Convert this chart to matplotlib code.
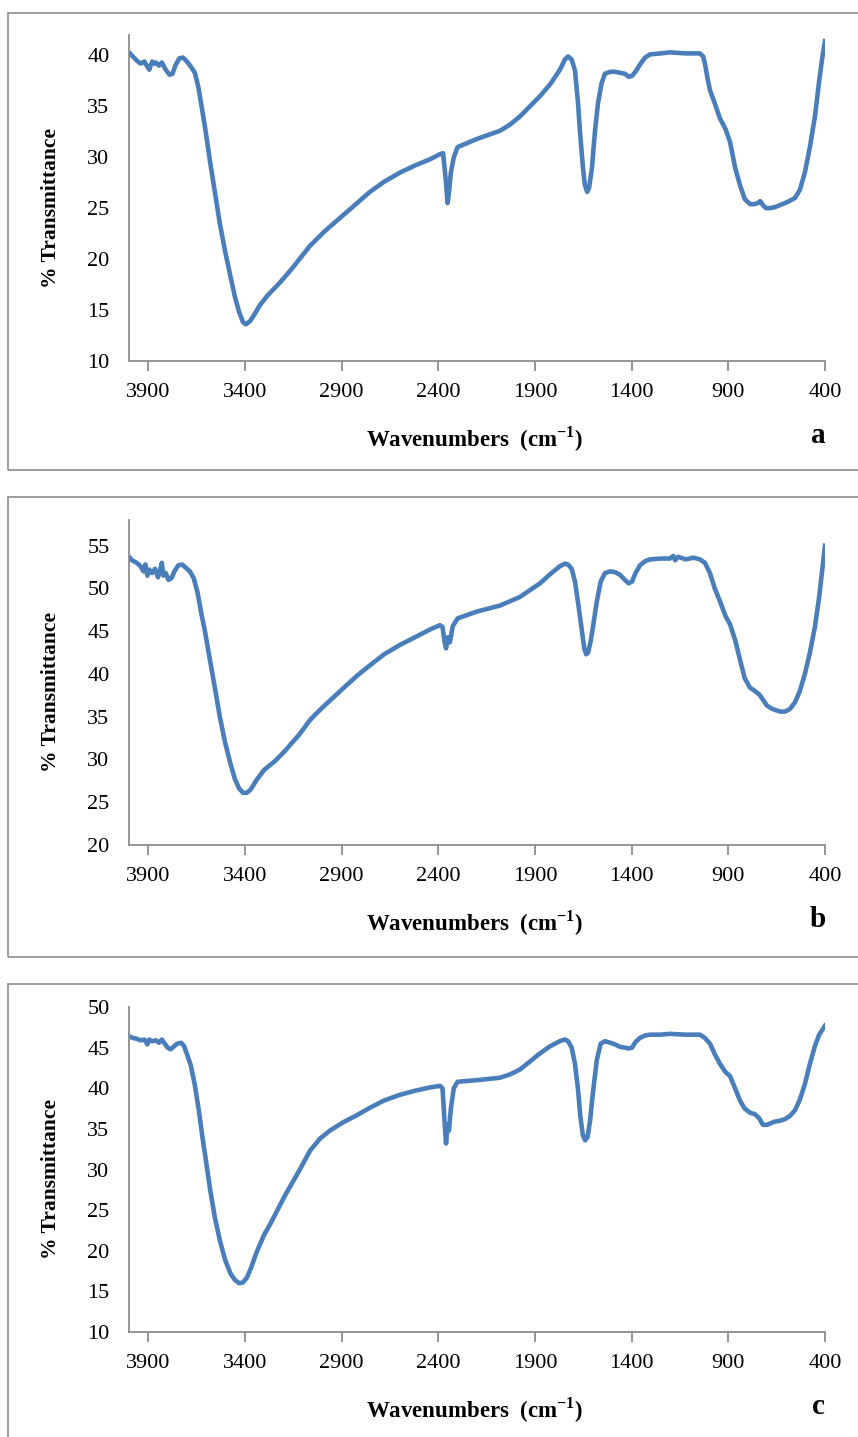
import matplotlib.pyplot as plt
from matplotlib.patches import Rectangle

plt.rcParams['font.family'] = 'Liberation Serif'
plt.rcParams['mathtext.fontset'] = 'custom'
plt.rcParams['mathtext.rm'] = 'Liberation Serif:bold'
plt.rcParams['mathtext.bf'] = 'Liberation Serif:bold'

# FTIR spectra, three samples (a, b, c)
wn_a = [4000, 3985, 3960, 3940, 3920, 3905, 3895, 3880, 3870, 3860, 3845, 3830, 3810, 3790,
        3775, 3760, 3740, 3721, 3700, 3680, 3659, 3640, 3620, 3607, 3580, 3555, 3530, 3503,
        3475, 3452, 3430, 3410, 3395, 3374, 3350, 3322, 3280, 3219, 3160, 3064, 2990, 2893,
        2820, 2754, 2680, 2598, 2520, 2443, 2392, 2375, 2360, 2352, 2345, 2335, 2320, 2300,
        2200, 2081, 2030, 1978, 1926, 1874, 1820, 1771, 1745, 1729, 1710, 1693, 1678, 1667,
        1652, 1642, 1630, 1620, 1605, 1590, 1574, 1555, 1538, 1510, 1486, 1460, 1435, 1415,
        1398, 1380, 1357, 1330, 1305, 1250, 1202, 1120, 1047, 1030, 1021, 1008, 995, 970,
        943, 915, 891, 865, 840, 815, 788, 765, 747, 735, 721, 705, 685, 660, 633, 595, 555,
        530, 504, 478, 452, 430, 416, 400]
t_a = [40.3, 40.0, 39.5, 39.2, 39.4, 38.9, 38.6, 39.4, 39.2, 39.3, 39.0, 39.3, 38.6, 38.1,
       38.2, 39.0, 39.7, 39.8, 39.4, 38.9, 38.3, 36.8, 34.5, 33.0, 29.5, 26.5, 23.5, 20.8,
       18.3, 16.3, 14.8, 13.8, 13.6, 13.9, 14.6, 15.5, 16.5, 17.7, 19.0, 21.3, 22.7, 24.3,
       25.5, 26.6, 27.6, 28.5, 29.2, 29.8, 30.3, 30.4, 27.5, 25.5, 26.5, 28.5, 30.0, 31.0,
       31.8, 32.6, 33.2, 34.0, 35.0, 36.0, 37.2, 38.6, 39.6, 39.9, 39.6, 38.5, 35.5, 32.5,
       29.0, 27.3, 26.6, 27.0, 29.0, 32.5, 35.3, 37.3, 38.2, 38.4, 38.4, 38.3, 38.2, 37.9,
       38.0, 38.4, 39.1, 39.8, 40.1, 40.2, 40.3, 40.2, 40.2, 39.9, 39.2, 37.8, 36.6, 35.3,
       33.8, 32.8, 31.5, 29.0, 27.3, 25.9, 25.4, 25.4, 25.5, 25.7, 25.3, 25.0, 25.0, 25.1,
       25.3, 25.6, 26.0, 26.8, 28.5, 31.0, 34.0, 37.5, 39.5, 41.4]

wn_b = [4000, 3985, 3960, 3940, 3925, 3915, 3905, 3895, 3880, 3865, 3850, 3840, 3830, 3822,
        3810, 3795, 3780, 3765, 3745, 3725, 3705, 3685, 3665, 3645, 3625, 3607, 3580, 3555,
        3530, 3503, 3475, 3452, 3430, 3410, 3390, 3370, 3340, 3300, 3245, 3193, 3116, 3064,
        3012, 2893, 2820, 2754, 2680, 2598, 2520, 2443, 2392, 2378, 2368, 2360, 2350, 2340,
        2325, 2300, 2200, 2081, 1978, 1926, 1874, 1820, 1771, 1745, 1729, 1710, 1693, 1678,
        1660, 1645, 1635, 1625, 1612, 1600, 1580, 1560, 1538, 1510, 1486, 1460, 1435, 1415,
        1398, 1380, 1357, 1330, 1305, 1250, 1202, 1185, 1175, 1160, 1120, 1080, 1047, 1021,
        995, 970, 943, 915, 891, 865, 840, 815, 788, 762, 740, 721, 700, 680, 659, 633, 607,
        581, 555, 530, 504, 478, 452, 430, 416, 400]
t_b = [53.7, 53.3, 53.0, 52.6, 52.0, 52.8, 51.5, 52.2, 51.8, 52.3, 51.3, 52.0, 53.0, 51.5,
       51.8, 51.0, 51.2, 52.0, 52.7, 52.8, 52.4, 52.0, 51.2, 49.5, 47.0, 45.0, 41.5, 38.3,
       35.0, 32.0, 29.5, 27.7, 26.6, 26.1, 26.1, 26.5, 27.6, 28.8, 29.8, 31.0, 33.0, 34.6,
       35.8, 38.3, 39.8, 41.0, 42.3, 43.4, 44.3, 45.2, 45.7, 45.5, 43.8, 43.0, 44.3, 43.7,
       45.6, 46.5, 47.3, 48.0, 49.0, 49.8, 50.6, 51.7, 52.6, 52.9, 52.8, 52.3, 50.8, 48.5,
       45.5, 43.0, 42.3, 42.5, 43.8, 45.5, 48.5, 50.8, 51.8, 52.0, 51.9, 51.6, 51.0, 50.6,
       50.8, 51.8, 52.7, 53.2, 53.4, 53.5, 53.5, 53.8, 53.3, 53.7, 53.4, 53.6, 53.4, 53.0,
       51.8, 50.0, 48.5, 46.8, 45.8, 44.0, 41.7, 39.5, 38.4, 38.0, 37.6, 37.0, 36.3, 36.0,
       35.8, 35.6, 35.6, 35.9, 36.7, 38.0, 40.0, 42.5, 45.5, 49.0, 51.8, 55.0]

wn_c = [4000, 3980, 3960, 3940, 3920, 3905, 3895, 3880, 3860, 3845, 3830, 3815, 3800, 3785,
        3770, 3750, 3730, 3715, 3700, 3680, 3660, 3640, 3620, 3600, 3580, 3555, 3530, 3503,
        3475, 3452, 3430, 3410, 3390, 3370, 3340, 3300, 3271, 3245, 3193, 3116, 3064, 3012,
        2960, 2893, 2820, 2754, 2680, 2598, 2520, 2443, 2392, 2378, 2368, 2360, 2352, 2345,
        2335, 2320, 2300, 2200, 2081, 2030, 1978, 1926, 1874, 1820, 1771, 1745, 1729, 1710,
        1693, 1678, 1665, 1652, 1640, 1628, 1615, 1600, 1580, 1560, 1538, 1510, 1486, 1460,
        1435, 1415, 1398, 1380, 1357, 1330, 1305, 1250, 1202, 1120, 1047, 1021, 995, 970,
        943, 915, 891, 865, 840, 815, 788, 762, 740, 721, 700, 680, 659, 633, 607, 581, 555,
        530, 504, 478, 452, 430, 400]
t_c = [46.4, 46.2, 46.1, 45.9, 46.0, 45.4, 46.0, 45.8, 45.9, 45.6, 46.0, 45.5, 45.0, 44.8,
       45.1, 45.5, 45.6, 45.2, 44.2, 42.8, 40.5, 37.5, 34.0, 30.8, 27.5, 24.0, 21.3, 18.9,
       17.2, 16.4, 16.0, 16.1, 16.7, 17.8, 19.8, 22.0, 23.2, 24.4, 26.8, 30.0, 32.3, 33.8,
       34.8, 35.8, 36.7, 37.6, 38.5, 39.2, 39.7, 40.1, 40.3, 40.0, 36.0, 33.2, 35.5, 34.8,
       37.5, 40.0, 40.8, 41.0, 41.3, 41.7, 42.3, 43.3, 44.3, 45.2, 45.8, 46.0, 45.8, 45.0,
       43.0, 40.0, 36.5, 34.2, 33.6, 34.0, 36.0, 39.5, 43.5, 45.5, 45.8, 45.6, 45.4, 45.1,
       45.0, 44.9, 45.0, 45.7, 46.2, 46.5, 46.6, 46.6, 46.7, 46.6, 46.6, 46.2, 45.5, 44.2,
       43.0, 42.0, 41.5, 40.0, 38.5, 37.5, 37.0, 36.8, 36.3, 35.5, 35.5, 35.7, 35.9, 36.0,
       36.2, 36.6, 37.3, 38.6, 40.5, 43.0, 45.2, 46.6, 47.7]

x_ticks = [3900, 3400, 2900, 2400, 1900, 1400, 900, 400]
y_limits = [(10, 42), (20, 58), (10, 50)]
y_ticks = [range(10, 41, 5), range(20, 56, 5), range(10, 51, 5)]
letters = ['a', 'b', 'c']

line_col = '#4A7EBB'
axis_col = '#8C8C8C'

fig = plt.figure(figsize=(8.58, 14.37), dpi=100)

# (axes bottom, axes top, frame bottom, frame top) in figure fraction
rows = [(0.7488, 0.9756, 0.6729, 0.9910),
        (0.4120, 0.6381, 0.3340, 0.6541),
        (0.0731, 0.2992, -0.02, 0.3152)]

spectra = [(wn_a, t_a), (wn_b, t_b), (wn_c, t_c)]

for i, (wn, t) in enumerate(spectra):
    ax_bot, ax_top, fr_bot, fr_top = rows[i]
    fig.patches.append(Rectangle((0.0093, fr_bot), 1.05, fr_top - fr_bot,
                                 transform=fig.transFigure, fill=False,
                                 edgecolor=axis_col, linewidth=1.2))
    ax = fig.add_axes([0.1503, ax_bot, 0.8112, ax_top - ax_bot])
    ax.plot(wn, t, color=line_col, linewidth=3.3, solid_joinstyle='round')
    ax.set_xlim(4000, 400)
    ax.set_ylim(*y_limits[i])
    ax.set_xticks(x_ticks)
    ax.set_yticks(list(y_ticks[i]))
    for s in ['top', 'right']:
        ax.spines[s].set_visible(False)
    for s in ['left', 'bottom']:
        ax.spines[s].set_color(axis_col)
        ax.spines[s].set_linewidth(1.3)
    ax.tick_params(axis='x', direction='out', length=7, width=1.3, color=axis_col,
                   pad=9, labelsize=16)
    ax.tick_params(axis='y', length=0, pad=14, labelsize=16)
    ax.set_xlabel(r'Wavenumbers  (cm$^{-1}$)', fontsize=16.5, fontweight='bold')
    ax.xaxis.set_label_coords(0.497, -0.195)
    ax.set_ylabel('% Transmittance', fontsize=15.5, fontweight='bold')
    ax.yaxis.set_label_coords(-0.098, 0.47)
    ax.text(0.99, -0.23, letters[i], transform=ax.transAxes, fontsize=21,
            fontweight='bold', ha='center', va='center')

fig.savefig('out.png', dpi=100)
